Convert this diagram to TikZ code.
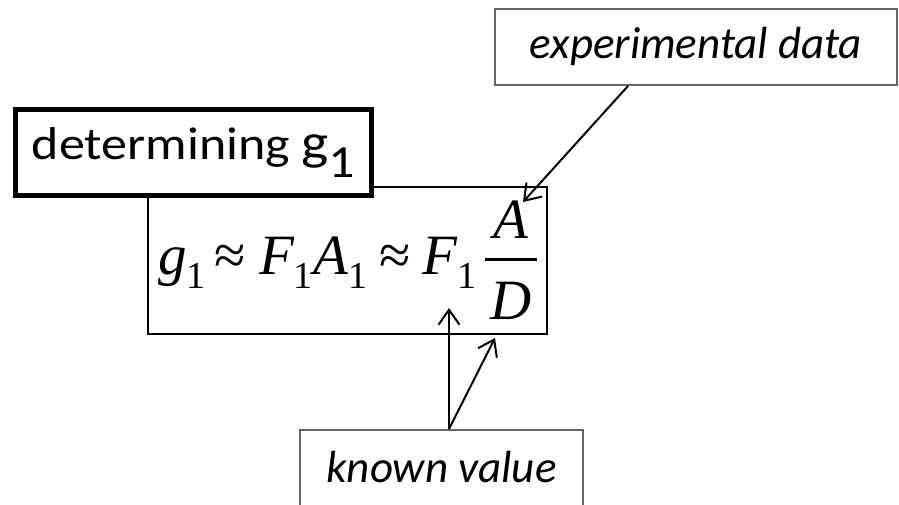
\documentclass[tikz,border=0pt]{standalone}
\usepackage{fontspec}
\usepackage{graphicx}
\usetikzlibrary{arrows.meta}
\newfontfamily\labelfont{Carlito}
\newfontfamily\eqfont{Liberation Serif}
\newcommand{\eqsub}{\raisebox{-14pt}{\upshape\fontsize{38}{38}\selectfont 1}}
\newcommand{\eqapprox}{{\upshape ≈}}
\newcommand{\eqfrac}[2]{\raisebox{-45pt}{\vbox{\hbox to 52pt{\hss\itshape #1\hss}\kern19.5pt
  \hrule height 3pt\kern20.8pt\hbox to 52pt{\hss\itshape #2\hss}}}}

\begin{document}
\begin{tikzpicture}[x=1pt,y=1pt,line width=2pt,
  >={Straight Barb[length=15pt,width=21pt]},
  tagbox/.style={draw=black!60,fill=white,inner sep=0pt,
   font=\labelfont\itshape\fontsize{45}{54}\selectfont},
  titlebox/.style={draw,fill=white,line width=5.5pt,inner sep=0pt,
   minimum width=356pt,minimum height=86pt,
   font=\labelfont\fontsize{46}{54}\selectfont},
  eqbox/.style={draw,inner sep=0pt,minimum width=399pt,minimum height=147pt,
   font=\eqfont\fontsize{57}{64}\selectfont}]
 \useasboundingbox (0,0) rectangle (899,504);
 \node[eqbox] (formula) at (347.5,243.5)
  {\itshape g\eqsub\hspace{9pt}\eqapprox\hspace{13pt}F\eqsub\hspace{1pt}A\eqsub
   \hspace{12pt}\eqapprox\hspace{12pt}F\eqsub\hspace{8pt}\eqfrac{A}{D}};
 \node[titlebox] (title) at (193.5,351.5)
  {\scalebox{1.13}[1]{determining {\fontsize{51}{54}\selectfont g}\raisebox{-18pt}{1}}};
 \node[tagbox,minimum width=402pt,minimum height=76pt] (expdata) at (696,457)
  {experimental data};
 \node[tagbox,anchor=north,minimum width=283pt,text height=32pt,text depth=50pt,
  inner ysep=20pt] (known) at (441.5,75) {known value};
 \coordinate (Atip) at (523,302);
 \coordinate (Ftip) at (449,196);
 \coordinate (Dtip) at (495,166);
 \draw[->] ([xshift=134pt]expdata.south west) -- (Atip);
 \draw[->] ([xshift=7.5pt]known.north) -- (Ftip);
 \draw[->] ([xshift=7.5pt]known.north) -- (Dtip);
\end{tikzpicture}
\end{document}
